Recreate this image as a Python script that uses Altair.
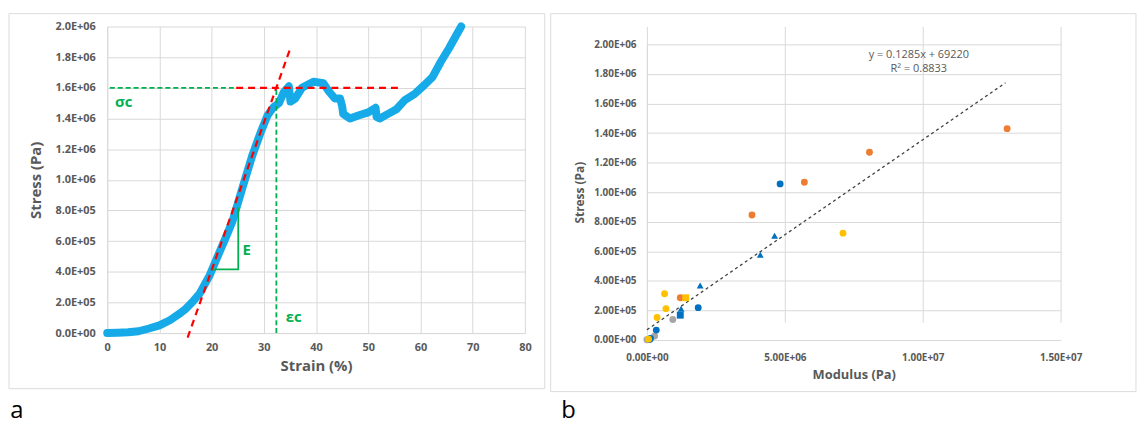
import altair as alt
import pandas as pd

# ---------------- Panel a : stress-strain curve ----------------
strain = [0, 2, 4, 6, 8, 10, 12, 14, 15.1, 16.5, 17.7, 18.7, 19.6, 20.8, 22.7,
          24.0, 25.9, 27.8, 29.4, 30.7, 31.9, 32.9, 33.8, 34.8, 35.1, 36.0, 37.3,
          39.5, 41.4, 42.4, 43.6, 44.6, 45.0, 45.2, 46.5, 48.1, 50.0, 51.4, 51.6,
          52.2, 53.8, 55.4, 57.0, 58.9, 60.8, 62.3, 63.9, 65.5, 66.8, 67.8]
stress = [0, 2e3, 5e3, 1.2e4, 3e4, 5e4, 8.4e4, 1.3e5, 1.6e5, 2.1e5, 2.57e5, 3.2e5,
          3.75e5, 4.72e5, 6.23e5, 7.3e5, 9.47e5, 1.16e6, 1.31e6, 1.42e6, 1.475e6,
          1.50e6, 1.57e6, 1.61e6, 1.51e6, 1.53e6, 1.60e6, 1.64e6, 1.63e6, 1.58e6,
          1.53e6, 1.53e6, 1.48e6, 1.43e6, 1.40e6, 1.42e6, 1.44e6, 1.47e6, 1.41e6,
          1.40e6, 1.43e6, 1.46e6, 1.52e6, 1.56e6, 1.62e6, 1.67e6, 1.77e6, 1.86e6,
          1.94e6, 2.0e6]

tangent_strain = [15.4, 35.2]
tangent_stress = [-3e4, 1.87e6]
plateau_strain = [24.7, 56.1]
plateau_stress = [1.6e6, 1.6e6]
sigma_strain = [0.5, 24.7]
sigma_stress = [1.6e6, 1.6e6]
eps_strain = [32.4, 32.4]
eps_stress = [0, 1.6e6]
modE_strain = [20.2, 25.1, 25.1]
modE_stress = [4.15e5, 4.15e5, 8.2e5]

ann_text = ["σc", "E", "εc"]
ann_strain = [1.5, 25.9, 34.2]
ann_stress = [1.508e6, 5.44e5, 1.04e5]

# ---------------- Panel b : stress vs modulus ----------------
groups = ["gray", "gray", "gray",
          "blue", "blue", "blue", "blue", "blue",
          "blue_tri", "blue_tri", "blue_tri", "blue_tri",
          "blue_sq",
          "orange", "orange", "orange", "orange", "orange",
          "yellow", "yellow", "yellow", "yellow", "yellow",
          "yellow_sq"]
modulus = [0.94e6, 0.28e6, 0.0,
           4.83e6, 1.86e6, 0.34e6, 0.13e6, 0.10e6,
           4.63e6, 4.11e6, 1.93e6, 1.24e6,
           1.21e6,
           5.71e6, 8.07e6, 13.06e6, 3.81e6, 1.21e6,
           7.11e6, 0.64e6, 0.69e6, 0.37e6, 0.06e6,
           1.41e6]
stress_b = [1.39e5, 2.7e4, 2e3,
            1.056e6, 2.19e5, 6.7e4, 1.1e4, 3e3,
            7.05e5, 5.77e5, 3.69e5, 2.12e5,
            1.68e5,
            1.067e6, 1.27e6, 1.43e6, 8.46e5, 2.86e5,
            7.23e5, 3.13e5, 2.12e5, 1.52e5, 6e3,
            2.86e5]
group_names = ["gray", "blue", "blue_tri", "blue_sq", "orange", "yellow", "yellow_sq"]
group_colors = ["#A5A5A5", "#0070C0", "#0070C0", "#0070C0", "#ED7D31", "#FFC000", "#FFC000"]
group_shapes = ["circle", "circle", "triangle-up", "square", "circle", "circle", "square"]
group_sizes = [48, 48, 75, 50, 48, 48, 50]

trend_modulus = [0, 1.3e7]
trend_stress = [69220, 1.74e6]
eq_text = ["y = 0.1285x + 69220", "R² = 0.8833"]
eq_modulus = [9.86e6, 9.86e6]
eq_stress = [1.93e6, 1.83e6]

panel_labels = ["a", "b"]

FONT = "Open Sans"
GRAY = "#595959"
GRID = "#d9d9d9"


def xa():
    return alt.X("strain:Q", scale=alt.Scale(domain=[0, 80], nice=False),
                 axis=alt.Axis(values=list(range(0, 81, 10)), title="Strain (%)", labelFlush=False,
                               labelFontSize=11, labelFontWeight="bold", labelPadding=9,
                               titleFontSize=15, titleFontWeight="bold", titlePadding=6))


def ya():
    return alt.Y("stress:Q", scale=alt.Scale(domain=[0, 2e6], nice=False),
                 axis=alt.Axis(values=[i * 2e5 for i in range(11)], title="Stress (Pa)",
                               labelExpr="replace(format(datum.value, '.1e'), 'e+', 'E+0')",
                               labelFontSize=11, labelFontWeight="bold", labelPadding=12,
                               titleFontSize=15, titleFontWeight="bold", titlePadding=11))


curve_df = pd.DataFrame({"strain": strain, "stress": stress, "idx": range(len(strain))})
curve = alt.Chart(curve_df).mark_line(color="#16ABE8", strokeWidth=8, strokeCap="round",
                                      strokeJoin="round").encode(x=xa(), y=ya(), order="idx:Q")


def seg(xs, ys, color, width, dash=None):
    df = pd.DataFrame({"strain": xs, "stress": ys, "idx": range(len(xs))})
    kw = dict(color=color, strokeWidth=width)
    if dash:
        kw["strokeDash"] = dash
    return alt.Chart(df).mark_line(**kw).encode(x=xa(), y=ya(), order="idx:Q")


tangent = seg(tangent_strain, tangent_stress, "#FF0000", 2.2, [7, 5])
plateau = seg(plateau_strain, plateau_stress, "#FF0000", 2.2, [7, 5])
sigma_l = seg(sigma_strain, sigma_stress, "#00B050", 1.8, [5, 3])
eps_l = seg(eps_strain, eps_stress, "#00B050", 1.8, [5, 3])
modE = seg(modE_strain, modE_stress, "#00B050", 1.8)

ann_df = pd.DataFrame({"strain": ann_strain, "stress": ann_stress, "t": ann_text})
ann = alt.Chart(ann_df).mark_text(color="#00B050", font=FONT, fontSize=15, fontWeight="bold",
                                  align="left", baseline="middle").encode(x=xa(), y=ya(), text="t:N")

one = pd.DataFrame({"k": [0]})
frame_a = alt.Chart(one).mark_rect(fillOpacity=0, stroke="#dcdcdc", strokeWidth=1).encode(
    x=alt.value(-99), x2=alt.value(441), y=alt.value(-13), y2=alt.value(365))
lab_a = alt.Chart(pd.DataFrame({"t": [panel_labels[0]]})).mark_text(
    font=FONT, fontSize=24, color="#000000", align="center", baseline="middle").encode(
    x=alt.value(-91), y=alt.value(388), text="t:N")

left = alt.layer(frame_a, curve, tangent, plateau, sigma_l, eps_l, modE, ann, lab_a).properties(
    width=421, height=309)

# right panel: plot top sits 18 px lower than the left one
B_H = 316
B_TOP = 18


def xb():
    return alt.X("modulus:Q", scale=alt.Scale(domain=[0, 1.5e7], nice=False),
                 axis=alt.Axis(values=[0, 5e6, 1e7, 1.5e7], title="Modulus (Pa)", labelFlush=False,
                               labelExpr="replace(format(datum.value, '.2e'), 'e+', 'E+0')",
                               labelFontSize=10, labelFontWeight="bold", labelPadding=13,
                               titleFontSize=13, titleFontWeight="bold", titlePadding=6))


def yb():
    return alt.Y("stress_b:Q", scale=alt.Scale(domain=[0, 2e6], nice=False, range=[B_H, B_TOP]),
                 axis=alt.Axis(values=[i * 2e5 for i in range(11)], title="Stress (Pa)",
                               labelExpr="replace(format(datum.value, '.2e'), 'e+', 'E+0')",
                               labelFontSize=10, labelFontWeight="bold", labelPadding=11,
                               titleFontSize=12, titleFontWeight="bold", titlePadding=7))


pts_df = pd.DataFrame({"modulus": modulus, "stress_b": stress_b, "g": groups,
                       "idx": range(len(groups))})
pts = alt.Chart(pts_df).mark_point(filled=True, opacity=1).encode(
    x=xb(), y=yb(),
    color=alt.Color("g:N", scale=alt.Scale(domain=group_names, range=group_colors), legend=None),
    shape=alt.Shape("g:N", scale=alt.Scale(domain=group_names, range=group_shapes), legend=None),
    size=alt.Size("g:N", scale=alt.Scale(domain=group_names, range=group_sizes), legend=None),
    order="idx:Q")

trend_df = pd.DataFrame({"modulus": trend_modulus, "stress_b": trend_stress})
trend = alt.Chart(trend_df).mark_line(color="#404040", strokeWidth=1.3, strokeDash=[3, 3]).encode(
    x=xb(), y=yb())

eq_df = pd.DataFrame({"modulus": eq_modulus, "stress_b": eq_stress, "t": eq_text})
eq = alt.Chart(eq_df).mark_text(font=FONT, fontSize=11, color=GRAY, align="center",
                                baseline="middle").encode(x=xb(), y=yb(), text="t:N")

frame_b = alt.Chart(one).mark_rect(fillOpacity=0, stroke="#dcdcdc", strokeWidth=1).encode(
    x=alt.value(-97), x2=alt.value(493), y=alt.value(-13), y2=alt.value(368))
lab_b = alt.Chart(pd.DataFrame({"t": [panel_labels[1]]})).mark_text(
    font=FONT, fontSize=24, color="#000000", align="center", baseline="middle").encode(
    x=alt.value(-79), y=alt.value(388), text="t:N")

right = alt.layer(frame_b, trend, pts, eq, lab_b).properties(width=417, height=B_H)

chart = alt.hconcat(left, right, spacing=4).properties(
    padding={"left": 0, "top": 3, "right": 0, "bottom": 0}
).configure_view(stroke="transparent").configure_axis(
    gridColor=GRID, domainColor=GRID, ticks=False, labelFont=FONT, titleFont=FONT,
    labelColor=GRAY, titleColor=GRAY
)

chart.save("out.html", embed_options={"renderer": "svg", "actions": False})
